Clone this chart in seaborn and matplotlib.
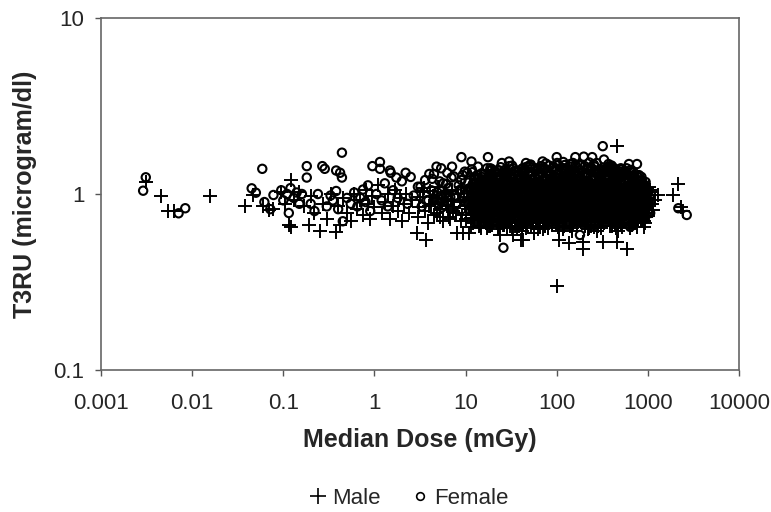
import pandas as pd
import matplotlib
matplotlib.use('Agg')
import matplotlib.pyplot as plt
import seaborn as sns
from matplotlib.lines import Line2D

# values: the scattered points first
male_dose_sparse = [
    0.0031, 0.0045, 0.0054, 0.0063, 0.0156, 0.038, 0.047, 0.060, 0.0705, 0.078,
    0.095, 0.105, 0.115, 0.122, 0.123, 0.13, 0.15, 0.17, 0.19, 0.20,
    0.22, 0.25, 0.27, 0.30, 0.33, 0.38, 0.40, 0.42, 0.45, 0.50,
    0.55, 0.60, 0.65, 0.70, 0.75, 0.80, 0.85, 0.90, 0.95, 1.0,
    1.1, 1.2, 1.3, 1.4, 1.5, 1.6, 1.7, 1.8, 1.9, 2.0,
    2.1, 2.2, 2.4, 2.6, 2.9, 3.1, 3.4, 3.7, 3.9, 4.2,
    4.5, 4.8, 5.0, 5.3, 5.6, 5.9, 6.2, 6.5, 6.9, 7.2,
    8.0, 9.3, 11, 11.5, 23.6, 33, 41, 43, 57, 106,
    135, 195, 195, 320, 460, 590, 900, 1150, 1200, 1300,
    1900, 2160, 2300, 2400, 455, 100, 1050, 1100, 1000, 980,
    3.2, 3.6, 4.1, 4.6, 5.2, 5.8, 6.4, 7.1, 7.9, 8.6,
    3.0, 3.5, 4.0, 4.4, 4.9, 5.5, 6.1, 6.8, 7.5, 8.3,
    9.0, 9.6, 10.3, 9.2, 9.9, 10.6, 8.8, 10.1, 10.9, 11.2,
]
male_t3ru_sparse = [
    1.174, 0.98, 0.80, 0.80, 0.98, 0.85, 0.99, 0.85, 0.81, 0.82,
    1.02, 0.88, 0.666, 0.65, 1.20, 0.92, 1.02, 0.85, 0.67, 0.98,
    0.78, 0.62, 0.88, 0.72, 1.0, 0.61, 0.85, 0.67, 0.95, 0.78,
    0.70, 1.0, 0.82, 0.92, 0.76, 1.05, 0.88, 0.72, 0.97, 0.84,
    1.12, 0.78, 0.90, 1.0, 0.72, 0.86, 1.05, 0.80, 0.95, 0.70,
    0.88, 1.0, 0.78, 0.92, 0.60, 0.84, 1.02, 0.55, 0.68, 0.88,
    0.76, 0.95, 1.10, 0.82, 0.70, 1.0, 0.86, 0.74, 0.92, 0.80,
    0.60, 0.60, 0.60, 0.65, 0.585, 0.585, 0.55, 0.55, 0.60, 0.55,
    0.53, 0.49, 0.535, 0.535, 0.535, 0.49, 0.65, 0.81, 0.92, 0.99,
    0.986, 1.14, 0.84, 0.80, 1.87, 0.30, 1.02, 0.88, 0.75, 1.08,
    0.96, 0.80, 1.04, 0.88, 0.74, 0.94, 0.82, 1.06, 0.78, 0.90,
    0.74, 1.08, 0.86, 0.98, 0.78, 0.90, 1.02, 0.72, 0.84, 1.00,
    0.70, 0.92, 1.04, 0.76, 0.86, 0.96, 1.10, 0.72, 0.82, 0.94,
]

female_dose_sparse = [
    0.0031, 0.0029, 0.0084, 0.0071, 0.045, 0.050, 0.0588, 0.078, 0.062, 0.072,
    0.095, 0.10, 0.11, 0.12, 0.115, 0.13, 0.14, 0.15, 0.16, 0.181,
    0.181, 0.20, 0.22, 0.24, 0.268, 0.285, 0.30, 0.33, 0.35, 0.38,
    0.38, 0.40, 0.42, 0.44, 0.44, 0.45, 0.50, 0.55, 0.60, 0.65,
    0.70, 0.75, 0.80, 0.85, 0.90, 0.95, 1.15, 1.15, 1.48, 1.51,
    1.74, 2.2, 1.05, 1.2, 1.3, 1.4, 1.6, 1.8, 2.0, 2.3,
    2.5, 2.7, 3.0, 3.3, 3.6, 3.9, 4.2, 4.5, 4.8, 5.1,
    5.4, 5.7, 6.0, 6.3, 6.6, 7.1, 9, 11.6, 13.7, 17.6,
    18.7, 25, 30, 46, 70, 100, 160, 198, 245, 330,
    505, 620, 760, 800, 320, 26, 180, 640, 2160, 2670,
    3.2, 3.7, 4.3, 4.9, 5.5, 6.1, 6.8, 7.4, 8.1, 8.8,
    4.0, 4.6, 5.2, 5.8, 6.4, 7.0, 7.7, 8.4, 9.1, 9.8,
    8.6, 9.3, 10.0, 10.7, 11.4, 9.0, 9.7, 10.4, 11.1, 11.8,
]
female_t3ru_sparse = [
    1.244, 1.044, 0.83, 0.777, 1.077, 1.017, 1.39, 0.987, 0.90, 0.82,
    1.05, 0.92, 1.0, 1.08, 0.78, 0.95, 1.02, 0.88, 1.0, 1.44,
    1.24, 0.88, 0.80, 1.0, 1.44, 1.39, 0.85, 0.98, 0.92, 1.36,
    1.04, 0.82, 1.32, 1.24, 1.717, 0.70, 0.95, 0.88, 1.02, 0.85,
    0.95, 1.06, 0.90, 1.12, 0.80, 1.44, 1.52, 1.39, 1.36, 1.32,
    1.24, 1.32, 1.0, 0.92, 1.15, 0.85, 1.05, 0.95, 1.18, 0.88,
    1.25, 0.98, 1.10, 0.85, 1.20, 0.92, 1.05, 1.30, 1.43, 0.88,
    1.40, 1.15, 1.00, 1.32, 0.92, 1.43, 1.62, 1.53, 1.43, 1.62,
    1.40, 1.50, 1.53, 1.50, 1.53, 1.62, 1.62, 1.63, 1.62, 1.57,
    1.40, 1.48, 1.48, 1.28, 1.87, 0.495, 0.585, 0.65, 0.83, 0.76,
    1.10, 0.92, 1.22, 1.02, 0.84, 1.14, 0.96, 1.26, 0.88, 1.06,
    1.30, 0.94, 1.18, 0.86, 1.08, 1.24, 0.98, 1.12, 0.82, 1.34,
    1.04, 1.28, 0.90, 1.16, 0.80, 1.20, 0.96, 1.32, 1.08, 0.86,
]

# the dense cloud, doses shared by both sexes, one row per stretch of the axis
cloud_dose = [
    11.6, 13.7, 12.4, 14.6, 11.8, 13, 14.2, 12.1, 13.4, 11.4, 13.9, 12.6, 14.7, 11.7, 13.3, 12.2, 14.3, 12.7, 13.8, 12,
    14.9, 17.5, 15.9, 18.7, 15.2, 16.7, 18.2, 15.5, 17.2, 14.7, 17.9, 16.2, 18.9, 15, 17, 15.7, 18.4, 16.4, 17.7, 15.4,
    19.1, 22.6, 20.4, 24.1, 19.6, 21.5, 23.4, 20, 22.1, 18.9, 23, 20.9, 24.3, 19.4, 21.9, 20.2, 23.7, 21.1, 22.8, 19.8,
    24.7, 29.1, 26.3, 31, 25.2, 27.7, 30.2, 25.8, 28.5, 24.4, 29.6, 26.9, 31.3, 24.9, 28.3, 26, 30.5, 27.1, 29.4, 25.5,
    31.7, 37.4, 33.8, 39.9, 32.4, 35.6, 38.8, 33.1, 36.7, 31.3, 38.1, 34.5, 40.2, 32, 36.3, 33.5, 39.2, 34.9, 37.7, 32.8,
    40.8, 48.1, 43.5, 51.3, 41.7, 45.8, 49.9, 42.6, 47.2, 40.3, 49, 44.4, 51.8, 41.2, 46.7, 43.1, 50.4, 44.9, 48.5, 42.1,
    52.5, 62, 56, 66.1, 53.7, 59, 64.3, 54.9, 60.8, 51.9, 63.1, 57.2, 66.7, 53.1, 60.2, 55.5, 64.9, 57.8, 62.5, 54.3,
    67.6, 79.8, 72.2, 85.1, 69.2, 76, 82.8, 70.7, 78.3, 66.9, 81.3, 73.7, 85.9, 68.4, 77.5, 71.4, 83.6, 74.5, 80.6, 69.9,
    87, 103, 93, 110, 89, 98, 107, 91, 101, 86, 105, 95, 111, 88, 100, 92, 108, 96, 104, 90,
    112, 132, 120, 141, 115, 126, 137, 117, 130, 111, 135, 122, 142, 113, 129, 118, 139, 123, 134, 116,
    144, 170, 154, 181, 147, 162, 177, 151, 167, 143, 173, 157, 183, 146, 165, 152, 178, 159, 172, 149,
    186, 219, 199, 234, 190, 209, 228, 194, 215, 184, 224, 203, 236, 188, 213, 196, 230, 205, 222, 192,
    239, 282, 256, 301, 245, 269, 293, 250, 277, 237, 288, 261, 304, 242, 274, 253, 296, 264, 285, 247,
    308, 363, 329, 388, 315, 346, 377, 322, 356, 304, 370, 336, 391, 311, 353, 325, 381, 339, 367, 318,
    396, 467, 423, 498, 405, 445, 485, 414, 458, 392, 476, 432, 503, 401, 454, 418, 490, 436, 472, 409,
    510, 602, 544, 642, 521, 573, 625, 533, 590, 504, 613, 556, 647, 516, 584, 539, 630, 562, 607, 527,
    656, 774, 700, 825, 671, 737, 803, 685, 759, 649, 789, 715, 833, 663, 752, 693, 811, 722, 781, 678,
    845, 960, 880, 1010, 862, 930, 1040, 895, 975, 850, 990, 910, 1060, 870, 945, 905, 1020, 925, 985, 888,
]
cloud_female_t3ru = [
    1.05, 0.86, 1.22, 0.95, 1.33, 0.80, 1.12, 0.90, 1.28, 1.00, 0.76, 1.17, 0.84, 1.38, 0.93, 1.08, 0.78, 1.25, 0.98, 1.14,
    0.88, 1.18, 0.97, 1.36, 0.79, 1.07, 1.26, 0.83, 1.40, 0.92, 1.12, 1.02, 0.75, 1.31, 0.86, 1.21, 0.95, 1.15, 0.81, 1.04,
    1.24, 0.91, 1.09, 0.77, 1.38, 0.99, 0.85, 1.19, 0.94, 1.30, 0.80, 1.13, 1.42, 0.88, 1.03, 0.74, 1.27, 1.06, 0.83, 1.16,
    0.96, 1.33, 0.82, 1.11, 0.89, 1.22, 1.44, 0.76, 1.04, 1.17, 0.92, 1.37, 0.86, 1.01, 1.28, 0.79, 1.13, 0.95, 1.20, 0.84,
    1.14, 0.80, 1.29, 0.93, 1.45, 1.02, 0.87, 1.23, 0.75, 1.08, 1.34, 0.98, 0.83, 1.18, 0.91, 1.40, 1.05, 0.78, 1.26, 0.96,
    0.85, 1.21, 1.00, 1.46, 0.77, 1.10, 0.94, 1.31, 0.81, 1.16, 1.03, 1.38, 0.89, 1.25, 0.74, 1.07, 1.43, 0.92, 1.19, 0.97,
    1.27, 0.90, 1.12, 0.79, 1.41, 1.01, 0.84, 1.20, 0.95, 1.47, 0.76, 1.06, 1.33, 0.87, 1.15, 0.99, 0.82, 1.24, 1.37, 0.93,
    0.98, 1.35, 0.83, 1.17, 0.91, 1.49, 1.04, 0.75, 1.22, 0.88, 1.29, 1.09, 0.80, 1.44, 0.95, 1.13, 0.86, 1.39, 1.01, 0.78,
    1.19, 0.85, 1.42, 0.97, 1.08, 0.77, 1.31, 0.92, 1.50, 1.03, 0.82, 1.24, 0.89, 1.15, 1.36, 0.99, 0.74, 1.11, 1.46, 0.94,
    0.87, 1.28, 1.05, 1.48, 0.79, 1.14, 0.96, 1.38, 0.84, 1.21, 1.00, 0.76, 1.33, 0.91, 1.17, 1.52, 1.06, 0.81, 1.26, 0.98,
    1.43, 0.93, 1.10, 0.78, 1.25, 1.02, 0.86, 1.50, 0.97, 1.18, 0.75, 1.35, 0.90, 1.07, 1.30, 0.83, 1.46, 1.13, 0.95, 1.21,
    0.99, 1.40, 0.85, 1.16, 0.92, 1.30, 1.51, 0.77, 1.06, 1.23, 0.88, 1.44, 1.01, 0.80, 1.19, 0.95, 1.36, 0.74, 1.11, 1.27,
    1.20, 0.82, 1.47, 1.03, 0.91, 1.34, 0.76, 1.13, 0.97, 1.42, 0.86, 1.25, 1.08, 0.79, 1.50, 0.93, 1.17, 1.00, 1.31, 0.84,
    0.90, 1.29, 1.05, 1.44, 0.78, 1.14, 0.96, 1.37, 0.83, 1.21, 1.48, 0.99, 0.75, 1.10, 1.26, 0.87, 1.40, 1.02, 0.93, 1.18,
    1.33, 0.94, 1.12, 0.80, 1.42, 1.00, 0.85, 1.24, 1.07, 1.37, 0.76, 0.91, 1.19, 1.45, 0.97, 1.15, 0.82, 1.28, 1.03, 0.88,
    1.08, 0.79, 1.30, 0.95, 1.38, 1.16, 0.86, 1.02, 1.24, 0.75, 0.91, 1.34, 1.11, 0.98, 1.40, 0.83, 1.20, 1.05, 0.78, 0.94,
    0.89, 1.25, 1.00, 0.77, 1.32, 1.12, 0.94, 0.82, 1.20, 1.37, 0.86, 1.04, 0.74, 1.16, 0.97, 1.28, 0.80, 1.08, 0.91, 1.23,
    1.10, 0.92, 0.80, 1.02, 1.20, 0.86, 0.96, 1.14, 0.84, 1.25, 0.90, 1.06, 0.78, 0.98, 1.17, 0.88, 0.82, 1.08, 0.94, 1.00,
]
cloud_male_t3ru = [
    0.84, 1.02, 0.70, 0.92, 0.76, 1.12, 0.66, 0.88, 0.98, 0.73, 1.07, 0.80, 0.64, 0.95, 0.86, 0.68, 1.15, 0.78, 0.90, 1.00,
    0.72, 0.94, 1.10, 0.67, 0.82, 1.04, 0.75, 0.88, 0.64, 0.98, 0.78, 1.16, 0.70, 0.91, 0.84, 1.06, 0.66, 0.96, 0.74, 1.01,
    1.00, 0.69, 0.86, 1.13, 0.77, 0.93, 0.65, 1.05, 0.81, 0.72, 0.97, 0.89, 1.18, 0.67, 0.83, 1.08, 0.75, 0.91, 0.63, 0.79,
    0.79, 1.09, 0.67, 0.90, 1.02, 0.73, 0.85, 1.17, 0.64, 0.95, 0.77, 1.04, 0.70, 0.87, 1.12, 0.81, 0.66, 0.99, 0.75, 0.92,
    0.94, 0.71, 1.06, 0.82, 0.65, 1.15, 0.78, 0.89, 1.00, 0.68, 0.85, 0.74, 1.10, 0.96, 0.63, 0.80, 1.03, 0.72, 0.91, 0.87,
    0.68, 0.88, 1.14, 0.75, 0.97, 0.64, 1.05, 0.80, 0.92, 0.71, 1.20, 0.84, 0.66, 1.01, 0.77, 0.90, 0.73, 1.08, 0.86, 0.62,
    1.07, 0.76, 0.92, 0.65, 0.83, 1.18, 0.70, 0.98, 0.79, 0.87, 0.63, 1.03, 0.74, 0.90, 1.12, 0.68, 0.95, 0.81, 1.00, 0.72,
    0.81, 1.01, 0.69, 0.94, 1.16, 0.73, 0.86, 0.63, 1.06, 0.77, 0.90, 0.66, 1.13, 0.83, 0.97, 0.71, 1.04, 0.88, 0.64, 0.79,
    0.90, 0.65, 1.09, 0.78, 0.84, 1.02, 0.70, 1.20, 0.93, 0.74, 0.62, 0.87, 1.05, 0.68, 0.96, 0.81, 1.14, 0.72, 0.99, 0.76,
    0.74, 1.11, 0.86, 0.67, 1.00, 0.80, 0.92, 0.63, 1.07, 0.77, 1.18, 0.89, 0.70, 0.97, 0.83, 0.65, 1.03, 0.73, 0.91, 0.79,
    1.04, 0.72, 0.95, 0.84, 0.64, 1.15, 0.78, 0.90, 0.68, 1.01, 0.86, 0.74, 1.09, 0.62, 0.81, 0.97, 0.70, 1.19, 0.88, 0.76,
    0.69, 0.91, 1.06, 0.76, 1.16, 0.83, 0.64, 0.98, 0.72, 0.87, 1.03, 0.66, 0.93, 1.12, 0.79, 0.71, 0.89, 1.00, 0.63, 0.82,
    0.97, 0.75, 0.65, 1.10, 0.85, 0.70, 1.02, 0.80, 1.17, 0.67, 0.92, 0.73, 0.88, 1.05, 0.62, 0.78, 0.94, 1.13, 0.71, 0.83,
    0.77, 1.08, 0.87, 0.66, 0.99, 0.72, 1.14, 0.82, 0.93, 0.64, 0.76, 1.04, 0.89, 0.69, 0.96, 1.11, 0.80, 0.74, 1.00, 0.85,
    1.01, 0.68, 0.90, 1.12, 0.79, 0.64, 0.94, 0.73, 1.06, 0.84, 0.71, 1.15, 0.97, 0.66, 0.87, 0.76, 1.03, 0.91, 0.62, 0.81,
    0.83, 1.05, 0.70, 0.95, 0.65, 0.88, 1.10, 0.75, 0.99, 0.68, 1.14, 0.80, 0.92, 0.72, 1.02, 0.77, 0.64, 0.86, 0.97, 0.73,
    0.94, 0.71, 1.08, 0.82, 0.67, 1.00, 0.75, 0.89, 0.65, 1.04, 0.79, 0.96, 0.70, 1.11, 0.85, 0.73, 0.92, 0.68, 0.98, 0.77,
    0.88, 1.04, 0.72, 0.95, 0.80, 0.68, 1.10, 0.85, 0.76, 1.00, 0.92, 0.70, 1.06, 0.83, 0.74, 0.98, 0.90, 0.78, 0.94, 0.87,
]

# core of the cloud, where the marks merge into solid black
core_dose = [
    13.7, 15.9, 13.1, 15.1, 16.5, 14.1, 13.2, 15.6, 14.7, 13.8, 16.2, 12.9, 15.3, 14.4, 16.6, 13.4, 15.7, 14, 14.8, 16,
    17.6, 20.4, 16.8, 19.5, 21.2, 18.1, 17, 20, 18.9, 17.8, 20.8, 16.6, 19.7, 18.5, 21.4, 17.2, 20.2, 18, 19.1, 20.6,
    22.7, 26.4, 21.7, 25.1, 27.3, 23.4, 22, 25.9, 24.4, 22.9, 26.8, 21.5, 25.4, 23.9, 27.6, 22.2, 26.1, 23.2, 24.6, 26.6,
    29.2, 33.9, 27.9, 32.3, 35.2, 30.1, 28.3, 33.3, 31.4, 29.5, 34.5, 27.6, 32.7, 30.8, 35.5, 28.6, 33.6, 29.8, 31.7, 34.2,
    37.6, 43.6, 36, 41.6, 45.2, 38.8, 36.4, 42.8, 40.4, 38, 44.4, 35.6, 42, 39.6, 45.7, 36.8, 43.2, 38.4, 40.8, 44,
    48.4, 56.2, 46.3, 53.6, 58.2, 49.9, 46.8, 55.1, 52, 48.9, 57.2, 45.8, 54.1, 51, 58.8, 47.3, 55.6, 49.4, 52.5, 56.7,
    62.3, 72.4, 59.6, 69, 75, 64.3, 60.3, 71, 67, 63, 73.7, 59, 69.7, 65.7, 75.7, 61, 71.7, 63.7, 67.7, 73,
    80, 92.9, 76.5, 88.6, 96.3, 82.6, 77.4, 91.2, 86, 80.8, 94.6, 75.7, 89.4, 84.3, 97.2, 78.3, 92, 81.7, 86.9, 93.7,
    103, 120, 99, 114, 124, 107, 100, 118, 111, 104, 122, 98, 115, 109, 125, 101, 119, 105, 112, 121,
    133, 154, 127, 147, 160, 137, 129, 152, 143, 134, 157, 126, 149, 140, 162, 130, 153, 136, 144, 156,
    171, 199, 164, 190, 206, 177, 166, 195, 184, 173, 202, 162, 191, 180, 208, 167, 197, 175, 186, 201,
    220, 256, 211, 244, 265, 228, 213, 251, 237, 223, 261, 209, 246, 232, 268, 216, 254, 225, 239, 258,
    284, 329, 271, 314, 342, 293, 275, 323, 305, 287, 336, 268, 317, 299, 345, 278, 326, 290, 308, 332,
    365, 423, 349, 404, 439, 376, 353, 416, 392, 368, 431, 345, 408, 384, 443, 357, 419, 372, 396, 427,
    470, 545, 449, 520, 566, 485, 455, 535, 505, 475, 556, 444, 525, 495, 571, 460, 540, 480, 510, 550,
    605, 702, 579, 670, 728, 624, 585, 689, 650, 611, 715, 572, 676, 637, 735, 592, 696, 618, 657, 709,
    725, 842, 694, 803, 874, 749, 702, 827, 780, 733, 858, 686, 811, 764, 881, 710, 835, 741, 788, 850,
]
core_female_t3ru = [
    0.99, 1.16, 0.87, 1.25, 0.93, 1.06, 0.81, 1.20, 1.02, 0.90, 1.30, 0.84, 1.10, 0.96, 1.18, 0.79, 1.04, 1.23, 0.88, 1.13,
    1.22, 0.92, 1.08, 0.82, 1.31, 0.98, 1.14, 0.86, 1.26, 1.01, 0.94, 1.18, 0.80, 1.05, 1.34, 0.89, 1.11, 0.96, 1.20, 0.84,
    0.86, 1.28, 1.03, 1.15, 0.91, 1.36, 0.80, 1.09, 0.97, 1.22, 1.00, 0.84, 1.31, 0.93, 1.17, 1.06, 0.78, 1.24, 0.89, 1.12,
    1.18, 0.95, 1.33, 0.83, 1.07, 0.90, 1.25, 1.01, 1.38, 0.86, 1.14, 0.79, 1.21, 0.97, 1.04, 1.29, 0.92, 1.10, 0.81, 1.35,
    0.94, 1.20, 0.85, 1.39, 1.02, 1.13, 0.79, 1.27, 0.90, 1.07, 1.32, 0.98, 1.17, 0.83, 1.23, 0.95, 1.41, 0.88, 1.10, 1.00,
    1.30, 0.87, 1.15, 0.96, 1.40, 0.81, 1.05, 1.22, 0.92, 1.34, 1.00, 1.11, 0.85, 1.26, 0.98, 1.43, 0.90, 1.18, 0.78, 1.08,
    1.04, 1.37, 0.83, 1.19, 0.94, 1.29, 1.09, 0.88, 1.44, 0.99, 1.23, 0.80, 1.14, 0.91, 1.33, 1.01, 0.86, 1.25, 1.40, 0.96,
    0.91, 1.12, 1.32, 0.82, 1.06, 1.45, 0.95, 1.21, 0.87, 1.16, 1.38, 0.79, 1.02, 1.27, 0.93, 1.10, 1.42, 0.84, 1.19, 0.98,
    1.24, 0.97, 0.85, 1.41, 1.09, 0.90, 1.30, 1.03, 0.80, 1.18, 1.46, 0.93, 1.13, 0.87, 1.35, 1.00, 1.22, 0.83, 1.06, 1.38,
    1.00, 1.33, 0.89, 1.11, 1.46, 0.82, 1.20, 0.95, 1.28, 1.04, 0.86, 1.40, 0.92, 1.16, 0.79, 1.24, 1.07, 1.36, 0.97, 0.84,
    0.88, 1.19, 1.42, 0.94, 1.05, 1.31, 0.81, 1.12, 1.45, 0.90, 1.26, 1.01, 0.85, 1.37, 0.97, 1.15, 0.78, 1.22, 1.08, 0.92,
    1.27, 0.83, 1.09, 1.39, 0.96, 1.17, 0.89, 1.33, 1.03, 0.80, 1.43, 0.93, 1.21, 1.06, 0.86, 1.30, 0.99, 1.13, 0.91, 1.36,
    1.06, 1.35, 0.91, 1.14, 0.81, 1.25, 1.01, 1.41, 0.87, 1.18, 0.95, 1.08, 1.31, 0.84, 1.21, 0.98, 0.79, 1.37, 1.11, 0.93,
    0.94, 1.16, 1.29, 0.85, 1.03, 1.38, 0.90, 1.22, 0.98, 0.80, 1.12, 1.33, 0.87, 1.07, 1.26, 0.92, 1.19, 1.00, 0.83, 1.40,
    1.21, 0.88, 1.05, 1.34, 0.95, 0.81, 1.16, 1.00, 1.27, 0.90, 1.09, 1.36, 0.84, 1.13, 0.97, 1.23, 0.79, 1.03, 0.92, 1.30,
    0.97, 1.13, 0.84, 1.22, 1.04, 0.90, 1.30, 0.80, 1.09, 0.94, 1.18, 1.00, 0.86, 1.26, 0.92, 1.06, 1.33, 0.82, 1.15, 0.88,
    1.06, 0.86, 1.17, 0.93, 1.00, 1.21, 0.81, 1.10, 0.89, 1.03, 0.84, 1.14, 0.96, 0.79, 1.07, 0.91, 1.19, 0.83, 0.98, 1.12,
]
core_male_t3ru = [
    0.90, 0.74, 1.02, 0.82, 0.69, 0.96, 1.08, 0.78, 0.87, 0.71, 0.93, 0.84, 1.05, 0.67, 0.80, 0.99, 0.75, 0.89, 1.10, 0.72,
    0.76, 0.95, 0.68, 1.04, 0.85, 0.73, 0.91, 1.11, 0.79, 0.66, 0.98, 0.87, 0.71, 1.01, 0.82, 0.93, 0.69, 1.07, 0.75, 0.89,
    1.03, 0.80, 0.91, 0.70, 1.12, 0.77, 0.86, 0.67, 0.97, 0.83, 0.73, 1.06, 0.89, 0.75, 0.99, 0.68, 0.84, 0.94, 0.71, 1.09,
    0.72, 1.00, 0.85, 0.77, 0.66, 1.08, 0.92, 0.80, 0.70, 0.96, 1.13, 0.74, 0.88, 0.68, 1.03, 0.82, 0.95, 0.76, 1.11, 0.87,
    0.88, 0.69, 1.05, 0.74, 0.93, 0.81, 1.14, 0.67, 0.98, 0.78, 0.85, 1.09, 0.71, 0.94, 0.76, 1.01, 0.83, 0.66, 0.90, 0.73,
    0.97, 0.78, 0.70, 1.10, 0.84, 0.92, 0.67, 1.03, 0.75, 0.88, 1.15, 0.72, 0.95, 0.80, 0.69, 1.06, 0.86, 0.74, 0.99, 0.82,
    0.71, 0.91, 1.08, 0.79, 0.66, 1.00, 0.85, 0.73, 1.13, 0.93, 0.77, 0.68, 1.04, 0.87, 0.75, 0.97, 0.70, 1.11, 0.83, 0.90,
    1.02, 0.73, 0.88, 0.67, 1.12, 0.80, 0.94, 0.76, 1.05, 0.70, 0.85, 0.98, 0.78, 1.15, 0.68, 0.91, 0.83, 0.72, 1.08, 0.75,
    0.79, 1.06, 0.69, 0.96, 0.86, 0.74, 1.13, 0.81, 0.91, 0.67, 1.00, 0.76, 0.89, 1.10, 0.72, 0.84, 0.66, 1.03, 0.94, 0.78,
    0.92, 0.71, 1.04, 0.83, 0.75, 1.14, 0.88, 0.68, 0.98, 0.79, 0.73, 1.07, 0.86, 0.66, 0.95, 1.01, 0.77, 0.90, 0.70, 1.12,
    0.75, 1.09, 0.81, 0.93, 0.67, 1.02, 0.87, 0.72, 1.15, 0.84, 0.70, 0.97, 0.78, 1.05, 0.89, 0.68, 0.94, 0.74, 1.11, 0.82,
    1.00, 0.77, 0.90, 0.69, 1.07, 0.85, 0.72, 0.96, 0.80, 1.12, 0.67, 0.88, 0.75, 1.03, 0.92, 0.70, 1.09, 0.83, 0.66, 0.94,
    0.84, 0.68, 1.11, 0.76, 0.95, 0.71, 1.01, 0.87, 0.79, 0.66, 1.06, 0.91, 0.74, 1.13, 0.81, 0.93, 0.69, 0.98, 0.77, 0.89,
    0.73, 0.97, 0.85, 1.08, 0.67, 0.90, 0.78, 1.02, 0.70, 0.88, 1.12, 0.75, 0.95, 0.82, 0.68, 1.05, 0.86, 0.72, 1.00, 0.80,
    0.94, 0.80, 0.69, 1.03, 0.86, 1.10, 0.74, 0.91, 0.67, 0.98, 0.77, 0.84, 1.06, 0.71, 0.89, 0.75, 1.00, 0.93, 0.68, 0.83,
    0.78, 1.01, 0.90, 0.72, 0.96, 0.68, 0.85, 1.06, 0.75, 0.92, 0.70, 0.82, 0.99, 0.77, 1.04, 0.87, 0.73, 0.94, 0.80, 0.69,
    0.91, 0.75, 0.98, 0.82, 0.70, 0.88, 1.02, 0.77, 0.93, 0.72, 0.85, 0.96, 0.74, 0.89, 0.79, 1.00, 0.71, 0.86, 0.94, 0.81,
]

x_ticks = [0.001, 0.01, 0.1, 1, 10, 100, 1000, 10000]
x_tick_labels = ['0.001', '0.01', '0.1', '1', '10', '100', '1000', '10000']
y_ticks = [0.1, 1, 10]
y_tick_labels = ['0.1', '1', '10']

sns.set_style('white')
plt.rcParams['font.family'] = ['Liberation Sans', 'DejaVu Sans']

male_df = pd.DataFrame({'dose': male_dose_sparse + cloud_dose + core_dose,
                        't3ru': male_t3ru_sparse + cloud_male_t3ru + core_male_t3ru})
female_df = pd.DataFrame({'dose': female_dose_sparse + cloud_dose + core_dose,
                          't3ru': female_t3ru_sparse + cloud_female_t3ru + core_female_t3ru})

fig = plt.figure(figsize=(7.71, 5.12), dpi=100)
ax = fig.add_axes([101 / 771, 1 - 370 / 512, 638 / 771, 352 / 512])

sns.scatterplot(data=male_df, x='dose', y='t3ru', marker='+', color='black', s=115, linewidth=1.4, ax=ax)
sns.scatterplot(data=female_df, x='dose', y='t3ru', marker='o', facecolor='none', edgecolor='black', s=36, linewidth=1.5, ax=ax)

ax.set_xscale('log')
ax.set_yscale('log')
ax.set_xlim(0.001, 10000)
ax.set_ylim(0.1, 10)
ax.set_xticks(x_ticks, x_tick_labels)
ax.set_yticks(y_ticks, y_tick_labels)
ax.minorticks_off()
ax.tick_params(axis='both', direction='out', length=4.5, width=1, color='#555555', labelsize=16, left=True, bottom=True)
ax.tick_params(axis='x', pad=12)
ax.tick_params(axis='y', pad=7.5)
ax.set_xlabel('Median Dose (mGy)', fontsize=18, fontweight='bold', labelpad=10)
ax.set_ylabel('T3RU (microgram/dl)', fontsize=18, fontweight='bold', labelpad=12)
for spine in ax.spines.values():
    spine.set_color('#666666')
    spine.set_linewidth(1.2)

handles = [
    Line2D([], [], linestyle='none', marker='+', color='black', markersize=11, markeredgewidth=1.2, label='Male'),
    Line2D([], [], linestyle='none', marker='o', markerfacecolor='none', markeredgecolor='black', markersize=5.5, markeredgewidth=1.2, label='Female'),
]
fig.legend(handles=handles, loc='center', bbox_to_anchor=(402 / 771, 1 - 498 / 512), ncol=2, frameon=False,
           fontsize=16, handletextpad=-0.35, columnspacing=0.75, borderpad=0)

fig.savefig('out.png', dpi=100)
